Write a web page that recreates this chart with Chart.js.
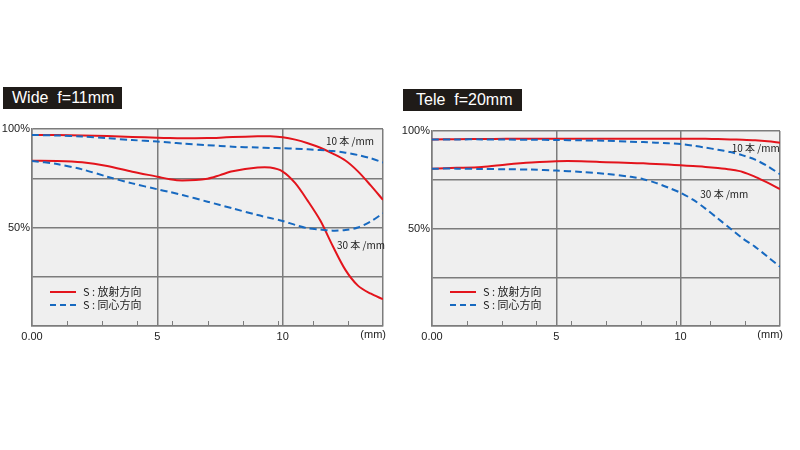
<!DOCTYPE html>
<html><head><meta charset="utf-8">
<script src="https://cdn.jsdelivr.net/npm/chart.js@4/dist/chart.umd.min.js"></script>
<style>
html,body{margin:0;padding:0;background:#fff;width:800px;height:450px;overflow:hidden}
.panel{position:absolute;top:0;width:400px;height:450px}
canvas{position:absolute;left:0;top:0}
.title{position:absolute;background:#1f1b18;color:#fff;font:16px 'Liberation Sans',Arial,sans-serif;height:22px;line-height:22px;width:119px;padding-left:9px;box-sizing:border-box;white-space:pre}
</style></head><body>
<div class="panel" style="left:0"><canvas id="c1" width="400" height="450"></canvas><div class="title" style="left:3px;top:87px">Wide  f=11mm</div></div>
<div class="panel" style="left:400px"><canvas id="c2" width="400" height="450"></canvas><div class="title" style="left:3px;top:89px;padding-left:13px">Tele  f=20mm</div></div>
<script>
// image height (mm)
const wideX = [0,1,2,3,4,5,5.5,6,7,7.5,8,9,9.5,10,10.5,11,11.5,12,12.5,13,13.5,14];
const wideSag10 = [97,96.9,96.7,96.4,96,95.6,95.4,95.3,95.4,95.6,95.9,96.3,96.3,95.8,94.6,92.8,90.5,87.5,84,78.5,71.5,64];
const wideMer10 = [97,96.7,96.2,95.3,94.4,93.6,93.1,92.6,91.8,91.4,91,90.6,90.4,90.2,90,89.7,89.3,88.8,88,86.8,85.2,83];
const wideSag30 = [83.9,83.8,83.1,81.2,78.3,75.8,74.5,73.9,74.8,76.6,78.5,80.4,80.4,78.4,72.5,63.5,53.5,40.5,28.5,20.5,16.5,13.6];
const wideMer30 = [83.8,82.2,79.5,75.8,72.4,69.4,68,66.5,63.1,61.4,59.7,56.3,54.8,53.3,51.3,49.6,49,48.4,48.7,50,53,57.2];

const teleX = [0,1,2,3,4,5,6,7,8,8.5,9,9.5,10,10.5,11,11.5,12,12.5,13,13.5,14];
const teleSag10 = [95.7,95.8,95.9,96,96,96,96,96,96,96,96,96,96,96,96,95.9,95.7,95.5,95.2,94.7,94];
const teleMer10 = [95.7,95.7,95.7,95.6,95.5,95.4,95.2,95,94.5,94.3,94,93.7,93.3,92.5,91.5,90.4,89.2,87.5,85.3,82,77.8];
const teleSag30 = [80.7,81.1,81.6,82.8,83.8,84.5,84.5,84,83.6,83.4,83.1,82.8,82.4,82,81.6,81,80.2,79,76.5,73.5,70.2];
const teleMer30 = [80.7,80.7,80.5,80.4,80.2,79.7,79,78,76.5,75.3,73.4,71,68.3,64.8,60.2,55.1,50,44.9,40.6,35.5,30.4];

const xTickValues = [0,5,10,14];
const xTickLabels = ['0.00','5','10',''];
const xUnitLabel = '(mm)';
const yTickValues = [0,25,50,75,100];
const yTickLabels = ['','','50%','','100%'];
const minorTicks = [1.4,2.8,4.2,5.6,7.0,8.4,9.8,11.2,12.6];
const legendLabels = ['S : 放射方向','S : 同心方向'];
const freqLabels = ['10 本 /mm','30 本 /mm'];
// label anchor points [mm, %]
const wideNotes = [[12.68,93.6],[13.12,40.8]];
const teleNotes = [[13.02,91.1],[11.76,67.6]];

const RED = '#e3141c', BLUE = '#1769c0', GRID = '#7c7c7c';
const NUM_FONT = "'Liberation Sans', Arial, sans-serif";
const CJK_FONT = "'Noto Sans CJK JP', 'Noto Sans', sans-serif";

function pts(xs, ys){ return xs.map((x,i)=>({x:x,y:ys[i]})); }

function makeChart(id, xs, sag10, mer10, sag30, mer30, notes, padTop, padRight){
  const blueSet = d => ({data:pts(xs,d), borderColor:BLUE, borderWidth:2, borderDash:[7,4], pointRadius:0, fill:false, tension:0.3});
  const redSet = d => ({data:pts(xs,d), borderColor:RED, borderWidth:2, pointRadius:0, fill:false, tension:0.3});
  const deco = {
    id:'deco',
    beforeDraw(chart){
      const a = chart.chartArea, c = chart.ctx;
      c.save(); c.fillStyle = '#efefef'; c.fillRect(a.left, a.top, a.right-a.left, a.bottom-a.top); c.restore();
    },
    afterDraw(chart){
      const a = chart.chartArea, c = chart.ctx, xs_ = chart.scales.x, ys_ = chart.scales.y;
      c.save();
      c.strokeStyle = GRID; c.lineWidth = 1;
      minorTicks.forEach(v=>{ const px = Math.round(xs_.getPixelForValue(v))+0.5; c.beginPath(); c.moveTo(px,a.bottom); c.lineTo(px,a.bottom-5); c.stroke(); });
      c.fillStyle = '#222'; c.font = '11px '+NUM_FONT; c.textAlign='right'; c.textBaseline='middle';
      c.fillText(xUnitLabel, a.right+3, a.bottom+9);
      const lx = a.left+18, ly = a.bottom-34;
      c.lineWidth = 2; c.strokeStyle = RED; c.setLineDash([]);
      c.beginPath(); c.moveTo(lx, ly); c.lineTo(lx+26, ly); c.stroke();
      c.strokeStyle = BLUE; c.setLineDash([6,4]);
      c.beginPath(); c.moveTo(lx, ly+13); c.lineTo(lx+26, ly+13); c.stroke();
      c.setLineDash([]);
      c.fillStyle = '#222'; c.font = '11px '+CJK_FONT; c.textAlign='left';
      c.fillText(legendLabels[0], lx+33, ly);
      c.fillText(legendLabels[1], lx+33, ly+13);
      c.font = '10px '+CJK_FONT; c.textAlign='center';
      notes.forEach((n,i)=>{ c.fillText(freqLabels[i], xs_.getPixelForValue(n[0]), ys_.getPixelForValue(n[1])); });
      c.restore();
    }
  };
  return new Chart(document.getElementById(id), {
    type:'line',
    data:{datasets:[blueSet(mer10), blueSet(mer30), redSet(sag10), redSet(sag30)]},
    options:{
      responsive:false, animation:false,
      layout:{padding:{left:0, top:padTop, right:padRight, bottom:104}},
      plugins:{legend:{display:false}, tooltip:{enabled:false}},
      scales:{
        x:{type:'linear', min:0, max:14,
          afterBuildTicks: s => { s.ticks = xTickValues.map(v=>({value:v})); },
          afterFit: s => { s.height = 20; },
          grid:{color:GRID, lineWidth:1.5, drawTicks:false},
          border:{display:true, color:GRID, width:1.5},
          ticks:{autoSkip:false, maxRotation:0, padding:4, color:'#222', font:{family:NUM_FONT, size:11},
            callback:(v,i)=>xTickLabels[i]}
        },
        y:{type:'linear', min:0, max:100,
          afterBuildTicks: s => { s.ticks = yTickValues.map(v=>({value:v})); },
          afterFit: s => { s.width = 32; },
          grid:{color:GRID, lineWidth:1.5, drawTicks:false},
          border:{display:true, color:GRID, width:1.5},
          ticks:{autoSkip:false, padding:2, color:'#222', font:{family:NUM_FONT, size:11},
            callback:(v,i)=>yTickLabels[i]}
        }
      }
    },
    plugins:[deco]
  });
}
makeChart('c1', wideX, wideSag10, wideMer10, wideSag30, wideMer30, wideNotes, 129, 17);
makeChart('c2', teleX, teleSag10, teleMer10, teleSag30, teleMer30, teleNotes, 131, 20);
</script>
</body></html>
